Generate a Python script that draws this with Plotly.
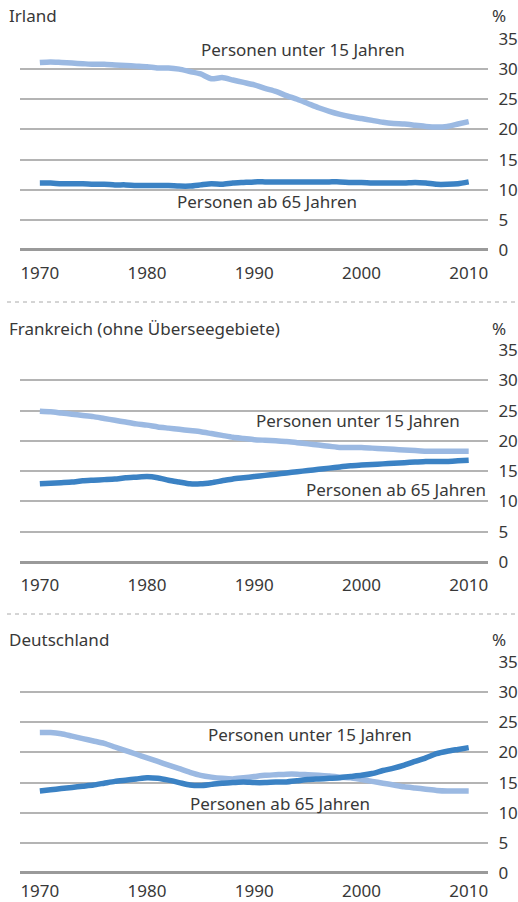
import plotly.graph_objects as go

years = list(range(1970, 2011))

irl_u15 = [31.1, 31.2, 31.1, 31.0, 30.9, 30.8, 30.8, 30.7, 30.6, 30.5,
           30.4, 30.2, 30.2, 30.0, 29.6, 29.2, 28.4, 28.6, 28.2, 27.8,
           27.4, 26.8, 26.3, 25.6, 25.0, 24.3, 23.6, 23.0, 22.5, 22.1,
           21.8, 21.5, 21.2, 21.0, 20.9, 20.7, 20.5, 20.4, 20.5, 20.9, 21.3]
irl_65 = [11.1, 11.1, 11.0, 11.0, 11.0, 10.9, 10.9, 10.8, 10.8, 10.7,
          10.7, 10.7, 10.7, 10.6, 10.6, 10.8, 11.0, 10.9, 11.1, 11.2,
          11.3, 11.3, 11.3, 11.3, 11.3, 11.3, 11.3, 11.3, 11.3, 11.2,
          11.2, 11.1, 11.1, 11.1, 11.1, 11.2, 11.1, 10.9, 10.9, 11.0, 11.3]

fra_u15 = [24.9, 24.8, 24.6, 24.4, 24.2, 24.0, 23.7, 23.4, 23.1, 22.8,
           22.6, 22.3, 22.1, 21.9, 21.7, 21.5, 21.2, 20.9, 20.6, 20.4,
           20.2, 20.1, 20.0, 19.9, 19.7, 19.5, 19.3, 19.1, 18.9, 18.9,
           18.9, 18.8, 18.7, 18.6, 18.5, 18.4, 18.3, 18.3, 18.3, 18.3, 18.3]
fra_65 = [12.9, 13.0, 13.1, 13.2, 13.4, 13.5, 13.6, 13.7, 13.9, 14.0,
          14.1, 13.9, 13.5, 13.2, 12.9, 12.9, 13.1, 13.4, 13.7, 13.9,
          14.1, 14.3, 14.5, 14.7, 14.9, 15.1, 15.3, 15.5, 15.7, 15.9,
          16.0, 16.1, 16.2, 16.3, 16.4, 16.5, 16.6, 16.6, 16.6, 16.7, 16.8]

deu_u15 = [23.3, 23.3, 23.1, 22.7, 22.3, 21.9, 21.5, 20.9, 20.3, 19.7,
           19.1, 18.5, 17.9, 17.3, 16.7, 16.2, 15.9, 15.7, 15.6, 15.8,
           16.0, 16.2, 16.3, 16.4, 16.4, 16.3, 16.2, 16.1, 15.9, 15.8,
           15.5, 15.2, 14.9, 14.6, 14.3, 14.1, 13.9, 13.7, 13.6, 13.6, 13.6]
deu_65 = [13.6, 13.8, 14.0, 14.2, 14.4, 14.6, 14.9, 15.2, 15.4, 15.6,
          15.8, 15.7, 15.4, 15.0, 14.6, 14.5, 14.7, 14.9, 15.0, 15.1,
          15.0, 15.0, 15.1, 15.1, 15.3, 15.5, 15.6, 15.7, 15.8, 16.0,
          16.2, 16.5, 17.0, 17.4, 17.9, 18.5, 19.1, 19.8, 20.2, 20.5, 20.8]

titles = ["Irland", "Frankreich (ohne Überseegebiete)", "Deutschland"]
label_u15 = "Personen unter 15 Jahren"
label_65 = "Personen ab 65 Jahren"
y_ticks = [0, 5, 10, 15, 20, 25, 30, 35]
x_ticks = [1970, 1980, 1990, 2000, 2010]

panels = [(irl_u15, irl_65), (fra_u15, fra_65), (deu_u15, deu_65)]

W, H = 518, 902
LIGHT = "#9bb9e2"
DARK = "#3b82c4"
TEXT = "#383838"
GRID = "#b4b4b4"
FONT = "Noto Sans"

YMAX = 35.1
plot_px = [(39, 250), (350, 562), (662, 873)]
title_px = [16, 328, 639]
xtick_len = [8, 8, 3]
ann_pos = [(1994.5, 33.2, 1991.2, 8.0),
           (1999.7, 23.4, 2003.2, 12.05),
           (1995.2, 23.05, 1992.4, 11.6)]
sep_px = [302, 614]

x0 = 20 / W
x1 = 488 / W

fig = go.Figure()
annotations = []
shapes = []
for i, ((u15, o65), (top, bot)) in enumerate(zip(panels, plot_px)):
    n = "" if i == 0 else str(i + 1)
    xa = "x" + n
    ya = "y" + n
    fig.add_trace(go.Scatter(x=years, y=u15, mode="lines", xaxis=xa, yaxis=ya,
                             line=dict(color=LIGHT, width=5.5, shape="spline", smoothing=0.6),
                             showlegend=False, hoverinfo="skip"))
    fig.add_trace(go.Scatter(x=years, y=o65, mode="lines", xaxis=xa, yaxis=ya,
                             line=dict(color=DARK, width=5.5, shape="spline", smoothing=0.6),
                             showlegend=False, hoverinfo="skip"))
    ppu = (bot - top) / 35.0
    top_ext = top - (YMAX - 35) * ppu
    dom = [1 - bot / H, 1 - top_ext / H]
    fig.layout["xaxis" + n] = dict(
        domain=[x0, x1], anchor=ya, range=[1968.15, 2011.8], automargin=False,
        tickvals=x_ticks, ticktext=[str(t) for t in x_ticks],
        showgrid=False, zeroline=False, showline=False,
        ticks="outside", ticklen=xtick_len[i], tickcolor="rgba(0,0,0,0)",
        tickfont=dict(family=FONT, size=17, color=TEXT), fixedrange=True)
    fig.layout["yaxis" + n] = dict(
        domain=dom, anchor=xa, range=[0, YMAX], side="right", automargin=False,
        tickvals=y_ticks, ticktext=[str(t) for t in y_ticks],
        showgrid=True, gridcolor=GRID, gridwidth=1.5,
        zeroline=True, zerolinecolor="#9a9a9a", zerolinewidth=3,
        ticks="outside", ticklen=6, tickcolor="rgba(0,0,0,0)",
        tickfont=dict(family=FONT, size=17, color=TEXT), fixedrange=True)
    annotations.append(dict(text=titles[i], xref="paper", yref="paper",
                            x=7 / W, y=1 - title_px[i] / H, xanchor="left", yanchor="middle",
                            showarrow=False, font=dict(family=FONT, size=17, color=TEXT)))
    annotations.append(dict(text="%", xref="paper", yref="paper",
                            x=499 / W, y=1 - title_px[i] / H, xanchor="center", yanchor="middle",
                            showarrow=False, font=dict(family=FONT, size=17, color=TEXT)))
    xu, yu, xo, yo = ann_pos[i]
    annotations.append(dict(text=label_u15, xref=xa, yref=ya, x=xu, y=yu,
                            xanchor="center", yanchor="middle", showarrow=False,
                            font=dict(family=FONT, size=17, color=TEXT)))
    annotations.append(dict(text=label_65, xref=xa, yref=ya, x=xo, y=yo,
                            xanchor="center", yanchor="middle", showarrow=False,
                            font=dict(family=FONT, size=17, color=TEXT)))

for sp in sep_px:
    shapes.append(dict(type="line", xref="paper", yref="paper",
                       x0=7 / W, x1=1, y0=1 - sp / H, y1=1 - sp / H,
                       line=dict(color="#aaaaaa", width=1, dash="4px,4px")))

fig.update_layout(width=W, height=H, margin=dict(l=0, r=0, t=0, b=0, autoexpand=False),
                  paper_bgcolor="white", plot_bgcolor="white",
                  annotations=annotations, shapes=shapes)

fig.write_html("out.html", config={"displayModeBar": False},
               post_script="document.body.style.margin='0px';document.body.style.overflow='hidden';")
